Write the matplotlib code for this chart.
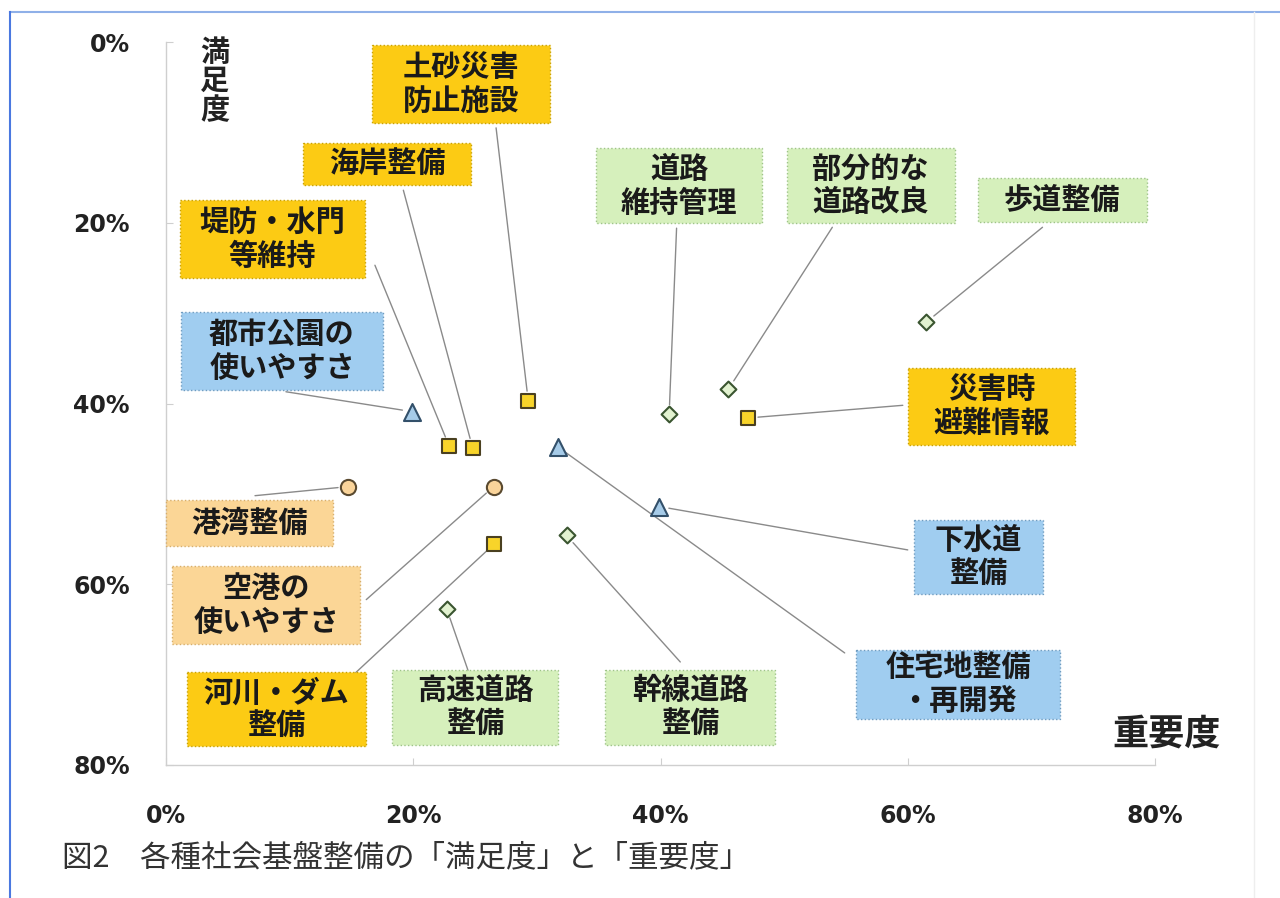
import matplotlib
matplotlib.use("Agg")
import matplotlib.pyplot as plt
from matplotlib.patches import Rectangle
from matplotlib.lines import Line2D

plt.rcParams['font.family'] = ['Noto Sans CJK JP', 'DejaVu Sans']

# ---- data ----
names = ["土砂災害\n防止施設", "海岸整備", "堤防・水門\n等維持", "都市公園の\n使いやすさ",
         "港湾整備", "空港の\n使いやすさ", "河川・ダム\n整備", "高速道路\n整備",
         "幹線道路\n整備", "住宅地整備\n・再開発", "下水道\n整備", "災害時\n避難情報",
         "歩道整備", "部分的な\n道路改良", "道路\n維持管理"]
importance = [29.3, 24.8, 22.9, 19.9, 14.7, 26.5, 26.5, 22.7,
              32.4, 31.7, 39.9, 47.1, 61.5, 45.5, 40.7]
satisfaction = [39.7, 44.9, 44.7, 40.9, 49.2, 49.2, 55.6, 62.7,
                54.6, 44.8, 51.4, 41.6, 31.0, 38.4, 41.2]
group = ["防災", "防災", "防災", "都市", "港湾空港", "港湾空港", "防災", "道路",
         "道路", "都市", "都市", "防災", "道路", "道路", "道路"]

x_ticks = [0, 20, 40, 60, 80]
x_ticklabels = ["0%", "20%", "40%", "60%", "80%"]
y_ticks = [0, 20, 40, 60, 80]
y_ticklabels = ["0%", "20%", "40%", "60%", "80%"]
x_title = "重要度"
y_title = "満\n足\n度"
caption = "図2　各種社会基盤整備の「満足度」と「重要度」"

# ---- layout (label boxes: center x, center y, width, height in axis units) ----
box_layout = [(23.87, 4.65, 14.4, 8.6), (17.88, 13.5, 13.6, 4.65), (8.62, 21.8, 15.0, 8.6),
              (9.38, 34.2, 16.3, 8.6), (6.76, 53.2, 13.5, 5.1), (8.09, 62.3, 15.2, 8.6),
              (8.94, 73.8, 14.5, 8.2), (25.0, 73.6, 13.4, 8.3), (42.4, 73.6, 13.7, 8.3),
              (64.1, 71.1, 16.5, 7.7), (65.7, 57.0, 10.4, 8.2), (66.8, 40.3, 13.5, 8.5),
              (72.5, 17.5, 13.7, 4.9), (57.0, 15.9, 13.6, 8.3), (41.5, 15.9, 13.4, 8.3)]
leader_end = [(26.7, 9.5), (19.2, 16.4), (16.9, 24.7), (9.7, 38.7), (7.2, 50.2),
              (16.2, 61.7), (14.7, 70.6), (24.6, 70.2), (41.6, 68.6), (54.9, 67.6),
              (60.0, 56.2), (59.6, 40.2), (70.9, 20.5), (53.9, 20.5), (41.3, 20.6)]

styles = {
    "防災": dict(marker="s", s=105, face="#F8D42A", edge="#4a4020", box="#FCCB14", boxedge="#c9a200"),
    "都市": dict(marker="^", s=150, face="#A6CBE8", edge="#33506a", box="#A0CDF0", boxedge="#6f9cc0"),
    "港湾空港": dict(marker="o", s=120, face="#FAD49A", edge="#5a4a30", box="#FBD696", boxedge="#d8ae6a"),
    "道路": dict(marker="D", s=65, face="#E2F2D0", edge="#3a5530", box="#D6F0BC", boxedge="#9ec488"),
}

fig = plt.figure(figsize=(12.8, 8.98), dpi=100)
ax = fig.add_axes([166 / 1280, 1 - 765 / 898, (1155 - 166) / 1280, (765 - 42) / 898])
ax.set_xlim(0, 80)
ax.set_ylim(80, 0)

for sp in ["top", "right"]:
    ax.spines[sp].set_visible(False)
for sp in ["left", "bottom"]:
    ax.spines[sp].set_color("#cfcfcf")
    ax.spines[sp].set_linewidth(1.0)

ax.set_xticks(x_ticks)
ax.set_xticklabels(x_ticklabels)
ax.set_yticks(y_ticks)
ax.set_yticklabels(y_ticklabels)
ax.tick_params(axis="both", direction="in", length=5, color="#cfcfcf",
               labelsize=17, labelcolor="#222222")
ax.tick_params(axis="x", pad=28)
ax.tick_params(axis="y", pad=26)
for lab in ax.get_xticklabels() + ax.get_yticklabels():
    lab.set_fontfamily(["DejaVu Sans"])
    lab.set_fontweight("bold")
for lab in ax.get_yticklabels():
    lab.set_y(lab.get_position()[1])

# leader lines
for (mx, my, (lx, ly)) in zip(importance, satisfaction, leader_end):
    ax.annotate("", xy=(mx, my), xytext=(lx, ly),
                arrowprops=dict(arrowstyle="-", color="#8a8a8a", lw=1.0,
                                shrinkA=0, shrinkB=7))

# markers
for g, st in styles.items():
    xs = [x for x, gg in zip(importance, group) if gg == g]
    ys = [y for y, gg in zip(satisfaction, group) if gg == g]
    ax.scatter(xs, ys, marker=st["marker"], s=st["s"], facecolor=st["face"],
               edgecolor=st["edge"], linewidth=1.5, zorder=5, clip_on=False)

# label boxes
for name, g, (cx, cy, w, h) in zip(names, group, box_layout):
    st = styles[g]
    rect = Rectangle((cx - w / 2, cy - h / 2), w, h, facecolor=st["box"],
                     edgecolor=st["boxedge"], linestyle=":", linewidth=1.0,
                     zorder=3, clip_on=False)
    ax.add_patch(rect)
    ax.text(cx, cy, name, ha="center", va="center", fontsize=21, fontweight="bold",
            color="#1a1a1a", linespacing=1.15, zorder=4, clip_on=False)

# axis titles
ax.text(3.96, 4.3, y_title, ha="center", va="center", fontsize=21, fontweight="bold",
        color="#222222", linespacing=0.95, clip_on=False)
ax.text(80.9, 76.6, x_title, ha="center", va="center", fontsize=26, fontweight="bold",
        color="#222222", clip_on=False)

# caption
fig.text(62 / 1280, 1 - 858 / 898, caption, ha="left", va="center", fontsize=22,
         color="#333333")

# frame lines
fig.add_artist(Line2D([10 / 1280, 1], [1 - 12 / 898, 1 - 12 / 898], color="#8fb0e8", lw=1.5))
fig.add_artist(Line2D([10 / 1280, 10 / 1280], [0, 1 - 12 / 898], color="#4a78e0", lw=1.5))
fig.add_artist(Line2D([1254 / 1280, 1254 / 1280], [0, 1 - 12 / 898], color="#eeeeee", lw=1.0))

fig.savefig("out.png", dpi=100)
